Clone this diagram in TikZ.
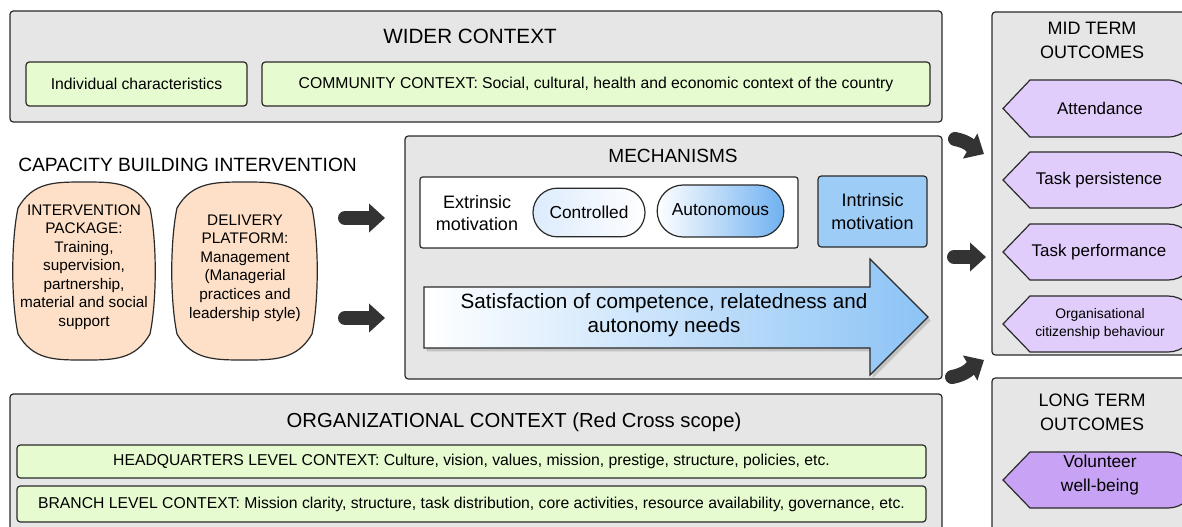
\documentclass[tikz,border=0pt]{standalone}
\usepackage{fontspec}
\setmainfont{Liberation Sans}
\usetikzlibrary{fit,arrows.meta,shadows,shapes.misc}
\definecolor{greybg}{HTML}{E6E6E6}
\definecolor{edgec}{HTML}{2A2A2A}
\definecolor{greenbg}{HTML}{E6FBD0}
\definecolor{peach}{HTML}{FDE0C7}
\definecolor{intrblue}{HTML}{9DCCF6}
\definecolor{autblue}{HTML}{6FB1F1}
\definecolor{ctrlblue}{HTML}{DCEBFC}
\definecolor{arrblue}{HTML}{8CC3F6}
\definecolor{lpurple}{HTML}{E1CDFB}
\definecolor{dpurple}{HTML}{C8A2F4}
\definecolor{darkarrow}{HTML}{333333}
\newcommand{\fsz}[2]{\fontsize{#1}{#2}\selectfont}
\newcommand{\blobpath}[4]{% l r t b
  \pgfmathsetmacro{\cxx}{(#1+#2)/2}
  \draw[blobstyle] (#1+5,#3+26) .. controls (#1+20,#3) and (\cxx-30,#3) .. (\cxx,#3)
    .. controls (\cxx+30,#3) and (#2-20,#3) .. (#2-5,#3+26)
    .. controls (#2+2,#3+60) and (#2+2,#4-60) .. (#2-5,#4-26)
    .. controls (#2-20,#4) and (\cxx+30,#4) .. (\cxx,#4)
    .. controls (\cxx-30,#4) and (#1+20,#4) .. (#1+5,#4-26)
    .. controls (#1-2,#4-60) and (#1-2,#3+60) .. cycle;}
\newcommand{\outpath}[3]{% top bottom colour
  \pgfmathsetmacro{\mid}{(#1+#2)/2}
  \pgfmathsetmacro{\rad}{(#2-#1)/2}
  \draw[outstyle, fill=#3] (1003,\mid) -- (1030,#1) -- (1168,#1)
    .. controls (1168+0.55*\rad,#1) and (1168+\rad,\mid-0.55*\rad) .. (1168+\rad,\mid)
    .. controls (1168+\rad,\mid+0.55*\rad) and (1168+0.55*\rad,#2) .. (1168,#2)
    -- (1030,#2) -- cycle;}
\begin{document}
\begin{tikzpicture}[x=0.75pt,y=-0.75pt,
  panel/.style={draw=edgec, fill=greybg, rounded corners=2.5pt, line width=0.9pt, inner sep=0pt},
  greenbox/.style={draw=edgec, fill=greenbg, rounded corners=2.5pt, line width=0.9pt, inner sep=0pt},
  gtext/.style={font=\fsz{11.8}{14}, inner sep=0pt},
  title/.style={font=\fsz{15.5}{18}, align=center, inner sep=0pt},
  otitle/.style={font=\fsz{13.5}{18}, align=center, inner sep=0pt},
  blobstyle/.style={draw=edgec, fill=peach, line width=0.9pt},
  blobtext/.style={font=\fsz{11.5}{13.9}, align=center, inner sep=0pt},
  outstyle/.style={draw=edgec, line width=0.9pt},
  outtext/.style={font=\fsz{12.7}{16}, align=center, inner sep=0pt},
  bigarrowhead/.style={line width=10.5pt, draw=darkarrow, line cap=round,
     -{Triangle[length=12pt, width=21pt]}},
  pill/.style={draw=edgec, line width=0.9pt, rounded rectangle, inner sep=0pt, font=\fsz{13}{16}},
]
\useasboundingbox[fill=white] (0,0) rectangle (1182,526);
\begin{scope}
\clip (0,0) rectangle (1182,526);

% ---------- WIDER CONTEXT ----------
\node[panel, fit={(10,11)(942,122)}] (wider) {};
\node[title] (widertitle) at (470,36) {WIDER CONTEXT};
\node[greenbox, fit={(26,62)(247,106)}, label={[gtext]center:Individual characteristics}] (indiv) {};
\node[greenbox, fit={(262,62)(930,106)}, label={[gtext]center:COMMUNITY CONTEXT: Social, cultural, health and economic context of the country}] (community) {};

% ---------- CAPACITY BUILDING ----------
\node[font=\fsz{14.4}{17}, anchor=west, inner sep=0pt] (captitle) at (18,165) {CAPACITY BUILDING INTERVENTION};
\blobpath{13}{155}{182}{360}
\node[blobtext] (package) at (84,267) {INTERVENTION\\PACKAGE:\\Training,\\supervision,\\partnership,\\material and social\\support};
\blobpath{172}{317}{182}{360}
\node[blobtext] (platform) at (245,268) {DELIVERY\\PLATFORM:\\Management\\(Managerial\\practices and\\leadership style)};

% ---------- MECHANISMS ----------
\node[panel, fit={(405,136)(942,379)}] (mech) {};
\node[title, font=\fsz{14.3}{18}] (mechtitle) at (673,156) {MECHANISMS};
\node[draw=edgec, fill=white, rounded corners=2pt, line width=0.9pt, inner sep=0pt, fit={(420,177)(798,248)}] (extbox) {};
\node[font=\fsz{13.5}{17}, align=center, inner sep=0pt] (extrinsic) at (477,213) {Extrinsic\\motivation};
\node[pill, left color=ctrlblue, right color=white, minimum width=84pt, minimum height=36.5pt] (controlled) at (589,212.5) {Controlled};
\node[pill, left color=white, right color=autblue, minimum width=95pt, minimum height=39pt] (autonomous) at (720.5,211) {\raisebox{2pt}{Autonomous}};
\node[draw=edgec, fill=intrblue, rounded corners=2.5pt, line width=0.9pt, inner sep=0pt, fit={(818,176)(927,247)}] (intrinsic) {};
\node[font=\fsz{13.5}{17}, align=center, inner sep=0pt] (intrtext) at (872.5,211.5) {Intrinsic\\motivation};

\draw[draw=edgec, line width=0.9pt, left color=white, right color=arrblue,
      drop shadow={shadow xshift=2pt, shadow yshift=-2.5pt, opacity=0.35}]
  (424,287) -- (870,287) -- (870,259) -- (928,317) -- (870,375) -- (870,348) -- (424,348) -- cycle;
\node[font=\fsz{15.5}{18}, align=center, inner sep=0pt] (satisf) at (664,315)
  {Satisfaction of competence, relatedness and\\autonomy needs};

% ---------- ORGANIZATIONAL CONTEXT ----------
\node[panel, fit={(10,394)(942,545)}] (org) {};
\node[title, font=\fsz{15.2}{18}] (orgtitle) at (514,422) {ORGANIZATIONAL CONTEXT (Red Cross scope)};
\node[greenbox, fit={(17,445)(926,478)}, label={[gtext]center:HEADQUARTERS LEVEL CONTEXT: Culture, vision, values, mission, prestige, structure, policies, etc.}] (hq) {};
\node[greenbox, fit={(17,486)(926,522)}, label={[gtext]center:BRANCH LEVEL CONTEXT: Mission clarity, structure, task distribution, core activities, resource availability, governance, etc.}] (branch) {};

% ---------- OUTCOMES ----------
\node[panel, fit={(992,12)(1200,355)}] (midterm) {};
\node[otitle] (midtitle) at (1092,40) {MID TERM\\OUTCOMES};
\outpath{80}{137}{lpurple}
\node[outtext] (attendance) at (1100,108.5) {Attendance};
\outpath{152}{208}{lpurple}
\node[outtext] (persistence) at (1099,180) {Task persistence};
\outpath{224}{280}{lpurple}
\node[outtext] (performance) at (1099,252) {Task performance};
\outpath{296}{352}{lpurple}
\node[outtext, font=\fsz{10.4}{14}] (ocb) at (1100,324) {Organisational\\citizenship behaviour};

\node[panel, fit={(992,378)(1200,545)}] (longterm) {};
\node[otitle] (longtitle) at (1092,412) {LONG TERM\\OUTCOMES};
\outpath{452}{508}{dpurple}
\node[outtext, font=\fsz{13}{18}] (wellbeing) at (1100,475) {Volunteer\\well-being};

% ---------- BLOCK ARROWS ----------
\coordinate (a1s) at (345,218); \coordinate (a1e) at (385,218);
\coordinate (a2s) at (345,318); \coordinate (a2e) at (385,318);
\draw[bigarrowhead] (a1s) -- (a1e);
\draw[bigarrowhead] (a2s) -- (a2e);
\coordinate (b1s) at (955,139); \coordinate (b1e) at (984,154);
\coordinate (b2s) at (954,257); \coordinate (b2e) at (986,257);
\coordinate (b3s) at (952,377); \coordinate (b3e) at (984,360);
\draw[bigarrowhead] (b1s) to[out=-10,in=150] (b1e);
\draw[bigarrowhead] (b2s) -- (b2e);
\draw[bigarrowhead] (b3s) to[out=10,in=-150] (b3e);
\end{scope}
\end{tikzpicture}
\end{document}
